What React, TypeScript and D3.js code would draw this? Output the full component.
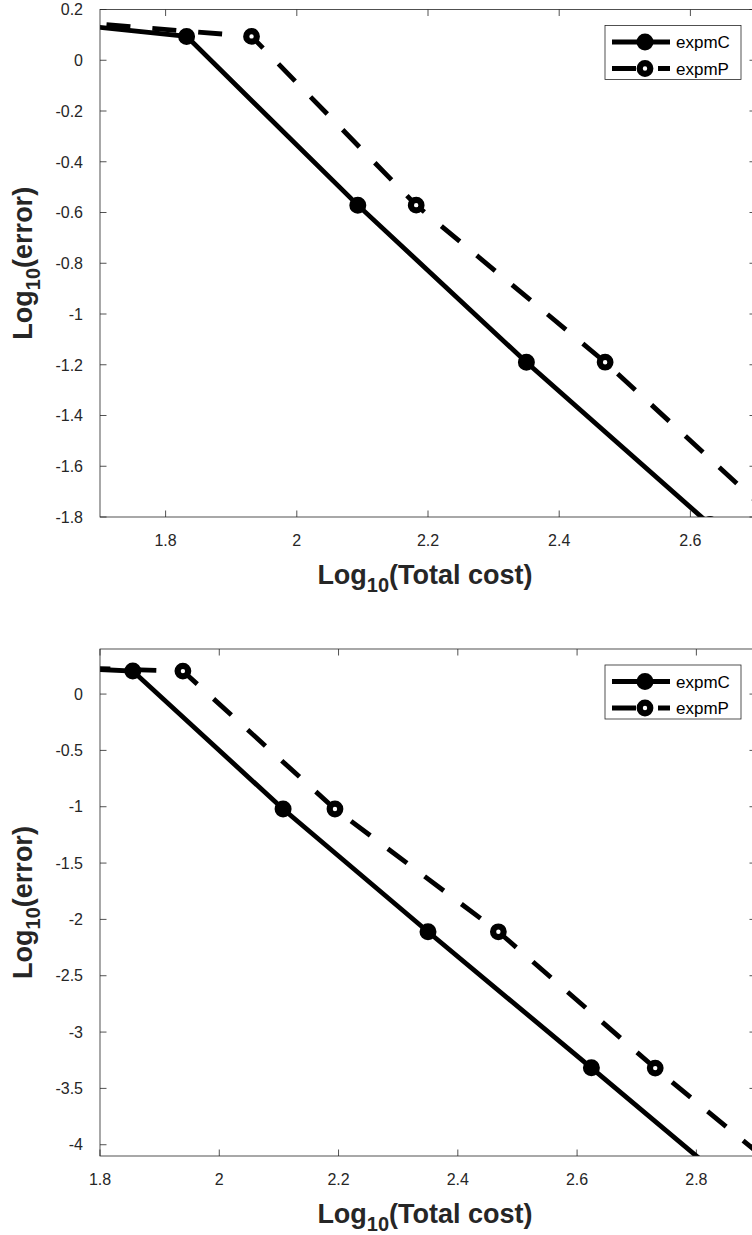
import React from "react";
import * as d3 from "d3";

// ---------- data ----------
const p1X_C = [1.57, 1.832, 2.093, 2.35, 2.63];
const p1Y_C = [0.165, 0.094, -0.571, -1.19, -1.83];
const p1X_P = [1.64, 1.931, 2.182, 2.47, 2.76];
const p1Y_P = [0.155, 0.094, -0.571, -1.19, -1.88];

const p2X_C = [1.6, 1.855, 2.107, 2.35, 2.624, 2.89];
const p2Y_C = [0.27, 0.204, -1.02, -2.11, -3.317, -4.5];
const p2X_P = [1.7, 1.939, 2.194, 2.468, 2.731, 2.99];
const p2Y_P = [0.24, 0.204, -1.02, -2.11, -3.32, -4.45];

const p1XTicks = [1.8, 2, 2.2, 2.4, 2.6];
const p1YTicks = [0.2, 0, -0.2, -0.4, -0.6, -0.8, -1, -1.2, -1.4, -1.6, -1.8];
const p2XTicks = [1.8, 2, 2.2, 2.4, 2.6, 2.8];
const p2YTicks = [0, -0.5, -1, -1.5, -2, -2.5, -3, -3.5, -4];

const seriesNames = ["expmC", "expmP"];

const FONT = "'Liberation Sans', Arial, Helvetica, sans-serif";
const AX = "#262626";

type PanelProps = {
  id: string;
  top: number;
  bottom: number;
  xDomain: [number, number];
  yDomain: [number, number];
  xTicks: number[];
  yTicks: number[];
  cx: number[];
  cy: number[];
  px: number[];
  py: number[];
};

const LEFT = 100;
const RIGHT = 756;

function Panel(props: PanelProps) {
  const { id, top, bottom, xDomain, yDomain, xTicks, yTicks, cx, cy, px, py } = props;
  const x = d3.scaleLinear().domain(xDomain).range([LEFT, RIGHT]);
  const y = d3.scaleLinear().domain(yDomain).range([bottom, top]);
  const line = d3
    .line<[number, number]>()
    .x((d) => x(d[0]))
    .y((d) => y(d[1]));
  const cData = cx.map((v, i) => [v, cy[i]] as [number, number]);
  const pData = px.map((v, i) => [v, py[i]] as [number, number]);
  const tl = 6.5;
  const fmt = (v: number) => String(v);
  const lw = 4.8;
  const dash = "24 22";
  const legTop = top + 16;
  const legL = 605;
  const legR = 741;
  const r1 = legTop + 16.5;
  const r2 = legTop + 43;
  const tickFs = 16;
  return (
    <g>
      <defs>
        <clipPath id={"clip" + id}>
          <rect x={LEFT} y={top} width={RIGHT - LEFT} height={bottom - top} />
        </clipPath>
      </defs>
      <rect x={LEFT} y={top} width={RIGHT - LEFT} height={bottom - top} fill="white" />
      {/* ticks */}
      {xTicks.map((t) => (
        <g key={"xt" + t}>
          <line x1={x(t)} x2={x(t)} y1={bottom} y2={bottom - tl} stroke={AX} strokeWidth={0.8} />
          <line x1={x(t)} x2={x(t)} y1={top} y2={top + tl} stroke={AX} strokeWidth={0.8} />
          <text x={x(t)} y={bottom + 29} textAnchor="middle" fontFamily={FONT} fontSize={tickFs} fill={AX}>
            {fmt(t)}
          </text>
        </g>
      ))}
      {yTicks.map((t) => (
        <g key={"yt" + t}>
          <line x1={LEFT} x2={LEFT + tl} y1={y(t)} y2={y(t)} stroke={AX} strokeWidth={0.8} />
          <line x1={RIGHT} x2={RIGHT - tl} y1={y(t)} y2={y(t)} stroke={AX} strokeWidth={0.8} />
          <text x={83} y={y(t)} dy="0.36em" textAnchor="end" fontFamily={FONT} fontSize={tickFs} fill={AX}>
            {fmt(t)}
          </text>
        </g>
      ))}
      <g clipPath={`url(#clip${id})`}>
        <path d={line(cData) || ""} fill="none" stroke="black" strokeWidth={lw} />
        <path d={line(pData) || ""} fill="none" stroke="black" strokeWidth={lw} strokeDasharray={dash} />
        {cData.map((d, i) => (
          <circle key={"c" + i} cx={x(d[0])} cy={y(d[1])} r={6.5} fill="black" stroke="black" strokeWidth={4} />
        ))}
        {pData.map((d, i) => (
          <circle key={"p" + i} cx={x(d[0])} cy={y(d[1])} r={5.3} fill="white" stroke="black" strokeWidth={6.2} />
        ))}
      </g>
      <rect x={LEFT} y={top} width={RIGHT - LEFT} height={bottom - top} fill="none" stroke={AX} strokeWidth={0.8} />
      {/* axis labels */}
      <text
        x={(LEFT + RIGHT) / 2 - 3}
        y={bottom + 67}
        textAnchor="middle"
        fontFamily={FONT}
        fontSize={27}
        fontWeight="bold"
        fill={AX}
      >
        Log<tspan fontSize={20} dy={8}>10</tspan>
        <tspan dy={-8}>(Total cost)</tspan>
      </text>
      <text
        transform={`translate(32, ${(top + bottom) / 2}) rotate(-90)`}
        textAnchor="middle"
        fontFamily={FONT}
        fontSize={27}
        fontWeight="bold"
        fill={AX}
      >
        Log<tspan fontSize={20} dy={8}>10</tspan>
        <tspan dy={-8}>(error)</tspan>
      </text>
      {/* legend */}
      <rect x={legL} y={legTop} width={legR - legL} height={54} fill="white" stroke={AX} strokeWidth={0.8} />
      <line x1={612} x2={670} y1={r1} y2={r1} stroke="black" strokeWidth={lw} />
      <circle cx={645} cy={r1} r={6.5} fill="black" stroke="black" strokeWidth={4} />
      <text x={676} y={r1} dy="0.36em" fontFamily={FONT} fontSize={17} fill="black">
        {seriesNames[0]}
      </text>
      <line x1={612} x2={670} y1={r2} y2={r2} stroke="black" strokeWidth={lw} strokeDasharray={dash} />
      <circle cx={645} cy={r2} r={5.3} fill="white" stroke="black" strokeWidth={6.2} />
      <text x={676} y={r2} dy="0.36em" fontFamily={FONT} fontSize={17} fill="black">
        {seriesNames[1]}
      </text>
    </g>
  );
}

export default function App() {
  return (
    <div style={{ position: "absolute", left: 0, top: 0 }}>
      <svg width={752} height={1235} viewBox="0 0 752 1235" style={{ display: "block", background: "white" }}>
        <rect x={0} y={0} width={752} height={1235} fill="white" />
        <Panel
          id="a"
          top={9.5}
          bottom={517}
          xDomain={[1.7, 2.7]}
          yDomain={[-1.8, 0.2]}
          xTicks={p1XTicks}
          yTicks={p1YTicks}
          cx={p1X_C}
          cy={p1Y_C}
          px={p1X_P}
          py={p1Y_P}
        />
        <Panel
          id="b"
          top={649}
          bottom={1156}
          xDomain={[1.8, 2.9]}
          yDomain={[-4.1, 0.4]}
          xTicks={p2XTicks}
          yTicks={p2YTicks}
          cx={p2X_C}
          cy={p2Y_C}
          px={p2X_P}
          py={p2Y_P}
        />
      </svg>
    </div>
  );
}
